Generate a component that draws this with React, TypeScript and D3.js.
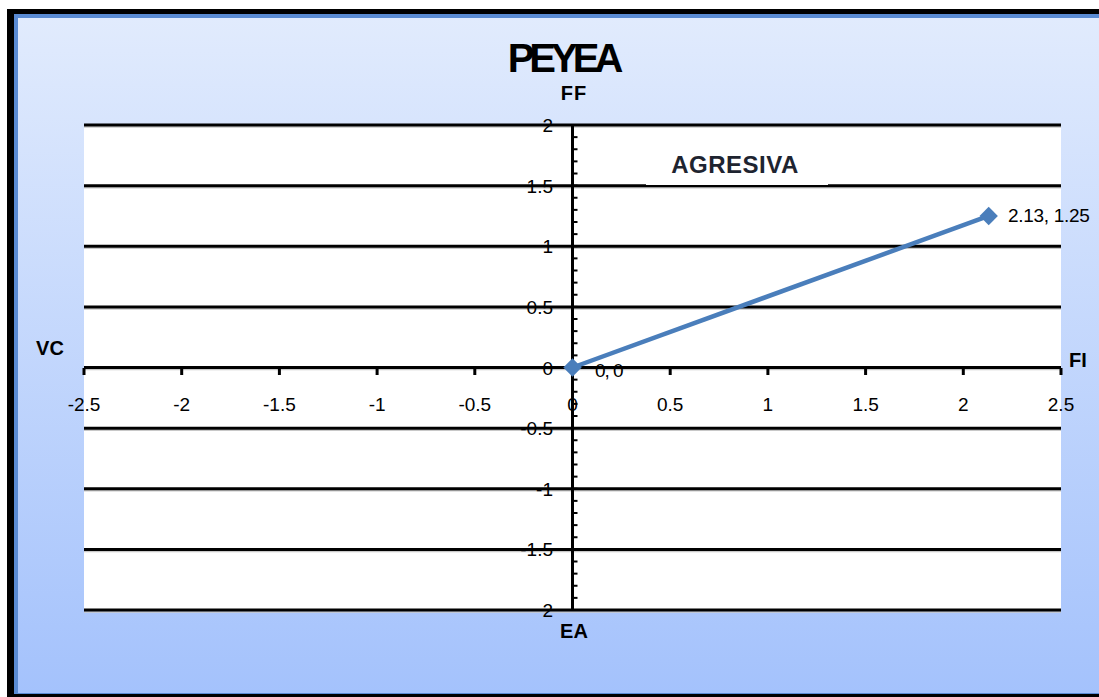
import React from "react";
import * as d3 from "d3";

const xTicks = [-2.5, -2, -1.5, -1, -0.5, 0, 0.5, 1, 1.5, 2, 2.5];
const yTicks = [2, 1.5, 1, 0.5, 0, -0.5, -1, -1.5, -2];
const yTickLabels = ["2", "1.5", "1", "0.5", "0", "-0.5", "-1", "-1.5", "2"];
const seriesX = [0, 2.13];
const seriesY = [0, 1.25];
const pointLabels = ["0, 0", "2.13, 1.25"];
const title = "PEYEA";

export default function App() {
  const W = 1099, H = 697;
  const x = d3.scaleLinear().domain([-2.5, 2.5]).range([84, 1061]);
  const y = d3.scaleLinear().domain([-2, 2]).range([610, 125]);
  const pts = seriesX.map((v, i) => [x(v), y(seriesY[i])] as [number, number]);
  const line = d3.line()(pts) || "";
  const minor = d3.range(-20, 21).map((i) => i / 10);
  const font = "'Liberation Sans', Arial, sans-serif";

  return (
    <svg width={W} height={H} style={{ position: "absolute", left: 0, top: 0 }} fontFamily={font}>
      <defs>
        <linearGradient id="bg" x1="0" y1="0" x2="0" y2="1">
          <stop offset="0" stopColor="#e1ebfd" />
          <stop offset="1" stopColor="#a4c2fc" />
        </linearGradient>
      </defs>
      <rect x={0} y={0} width={W} height={H} fill="#ffffff" />
      <rect x={7} y={9} width={W - 7} height={H - 9} fill="#000" />
      <rect x={14} y={14} width={W - 14} height={680} fill="#5a8bd3" />
      <rect x={18} y={18} width={W - 18} height={675} fill="url(#bg)" />
      {/* plot area */}
      <rect x={84} y={125} width={1061 - 84} height={610 - 125} fill="#ffffff" />
      {/* gridlines */}
      {yTicks.map((t, i) => (
        <g key={"g" + i}>
          <line x1={84} x2={1061} y1={y(t) + 2} y2={y(t) + 2} stroke="#c8c8c8" strokeWidth={1.5} />
          <line x1={84} x2={1061} y1={y(t)} y2={y(t)} stroke="#000" strokeWidth={3} />
        </g>
      ))}
      {/* AGRESIVA box */}
      <rect x={646} y={140} width={182} height={45} fill="#ffffff" />
      <text x={735} y={173} textAnchor="middle" fontSize={24} fontWeight="bold" letterSpacing={0.5} fill="#1e2430">AGRESIVA</text>
      {/* x axis ticks */}
      {xTicks.map((t, i) => (
        <line key={"xt" + i} x1={x(t)} x2={x(t)} y1={368} y2={375} stroke="#000" strokeWidth={3} />
      ))}
      {/* y axis */}
      <line x1={x(0)} x2={x(0)} y1={y(2)} y2={y(-2)} stroke="#000" strokeWidth={3} />
      {minor.map((t, i) => (
        <line key={"m" + i} x1={x(0)} x2={x(0) + 5} y1={y(t)} y2={y(t)} stroke="#000" strokeWidth={2} />
      ))}
      {/* x tick labels */}
      {xTicks.map((t, i) => (
        <text key={"xl" + i} x={x(t)} y={411} textAnchor="middle" fontSize={19} fill="#000">{String(t)}</text>
      ))}
      {/* y tick labels */}
      {yTicks.map((t, i) => (
        <text key={"yl" + i} x={553} y={y(t) + 7} textAnchor="end" fontSize={19} fill="#000">{yTickLabels[i]}</text>
      ))}
      {/* series */}
      <path d={line} fill="none" stroke="#4a7ebb" strokeWidth={4.5} />
      {pts.map((p, i) => (
        <rect key={"p" + i} x={p[0] - 6.5} y={p[1] - 6.5} width={13} height={13} fill="#4a7ebb" transform={`rotate(45 ${p[0]} ${p[1]})`} />
      ))}
      <text x={595} y={377} fontSize={19} letterSpacing={-1} fill="#000">{pointLabels[0]}</text>
      <text x={1008} y={222} fontSize={19} letterSpacing={-0.3} fill="#000">{pointLabels[1]}</text>
      {/* titles */}
      <text x={563} y={72} textAnchor="middle" fontSize={40} fontWeight="bold" letterSpacing={-5} fill="#000">{title}</text>
      <text x={574} y={100} textAnchor="middle" fontSize={20} fontWeight="bold" letterSpacing={1} fill="#000">FF</text>
      <text x={50} y={355} textAnchor="middle" fontSize={20} fontWeight="bold" fill="#000">VC</text>
      <text x={1078} y={367} textAnchor="middle" fontSize={20} fontWeight="bold" fill="#000">FI</text>
      <text x={574} y={638} textAnchor="middle" fontSize={20} fontWeight="bold" fill="#000">EA</text>
    </svg>
  );
}
